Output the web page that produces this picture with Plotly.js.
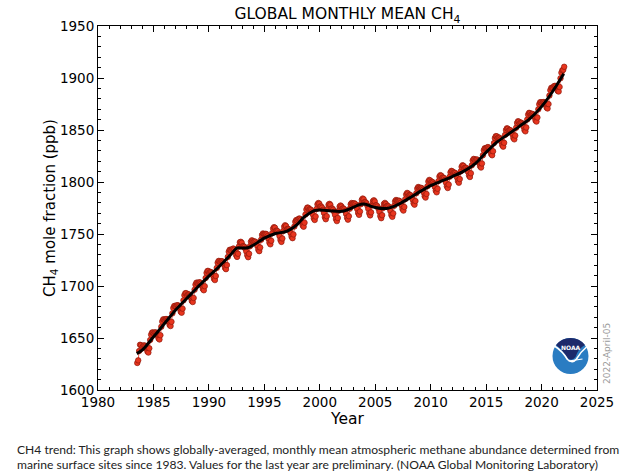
<!DOCTYPE html>
<html>
<head>
<meta charset="utf-8">
<script src="https://cdn.plot.ly/plotly-3.0.1.min.js"></script>
<style>html,body{margin:0;padding:0;background:#fff;}#chart{width:640px;height:473px;}</style>
</head>
<body>
<div id="chart"></div>
<script>
// Monthly global mean CH4 (ppb), starting July 1983
const startYear = 1983;
const startMonth = 7;
const ch4_1980s = [
  1626.0, 1628.5, 1637.5, 1643.5, 1643.0, 1640.0,
  1641.7, 1642.8, 1642.8, 1641.9, 1639.9, 1637.0, 1636.0, 1640.1, 1648.1, 1653.2, 1655.2, 1655.3,
  1654.3, 1655.3, 1655.4, 1654.4, 1652.5, 1649.6, 1648.6, 1652.7, 1660.8, 1665.8, 1667.9, 1667.9,
  1667.1, 1668.2, 1668.2, 1667.3, 1665.4, 1662.5, 1661.5, 1665.6, 1673.7, 1678.8, 1680.8, 1680.9,
  1680.5, 1681.5, 1681.4, 1680.4, 1678.4, 1675.3, 1674.3, 1678.2, 1686.2, 1691.2, 1693.1, 1693.1,
  1691.1, 1692.0, 1691.9, 1690.8, 1688.7, 1685.6, 1684.6, 1688.5, 1696.4, 1701.3, 1703.2, 1703.1,
  1702.6, 1703.5, 1703.4, 1702.3, 1700.2, 1697.1, 1695.9, 1699.8, 1707.7, 1712.6, 1714.5, 1714.4
];
const ch4_1990s = [
  1712.7, 1713.5, 1713.3, 1712.2, 1710.0, 1706.9, 1705.7, 1709.6, 1717.4, 1722.3, 1724.1, 1723.9,
  1722.9, 1723.8, 1723.7, 1722.6, 1720.5, 1717.4, 1716.2, 1720.1, 1728.0, 1732.9, 1734.8, 1734.7,
  1734.0, 1735.5, 1736.0, 1735.0, 1733.0, 1729.5, 1728.0, 1731.0, 1738.0, 1742.0, 1742.5, 1741.5,
  1738.1, 1738.3, 1737.6, 1735.9, 1733.2, 1729.5, 1727.7, 1731.0, 1738.3, 1742.6, 1743.9, 1743.1,
  1742.4, 1742.9, 1742.4, 1740.9, 1738.4, 1734.9, 1733.5, 1737.0, 1744.5, 1749.0, 1750.5, 1750.0,
  1749.8, 1750.2, 1749.6, 1748.0, 1745.3, 1741.7, 1740.1, 1743.5, 1750.8, 1755.2, 1756.6, 1756.0,
  1753.0, 1753.2, 1752.5, 1750.7, 1747.9, 1744.2, 1742.4, 1745.7, 1752.9, 1757.1, 1758.4, 1757.6,
  1754.4, 1755.0, 1754.6, 1753.2, 1750.8, 1747.4, 1746.0, 1749.6, 1757.2, 1761.8, 1763.4, 1763.0,
  1764.0, 1764.8, 1764.7, 1763.5, 1761.3, 1758.2, 1757.0, 1760.9, 1768.7, 1773.5, 1775.4, 1775.2,
  1773.5, 1773.8, 1773.1, 1771.5, 1768.8, 1765.1, 1763.5, 1766.8, 1774.1, 1778.5, 1779.8, 1779.1
];
const ch4_2000s = [
  1776.4, 1776.4, 1775.3, 1773.3, 1770.3, 1766.2, 1764.2, 1767.1, 1774.1, 1778.1, 1779.0, 1778.0,
  1774.4, 1774.4, 1773.4, 1771.4, 1768.4, 1764.4, 1762.4, 1765.4, 1772.4, 1776.4, 1777.4, 1776.4,
  1774.3, 1774.6, 1773.8, 1772.1, 1769.3, 1765.6, 1763.8, 1767.1, 1774.3, 1778.6, 1779.8, 1779.1,
  1779.3, 1779.5, 1778.7, 1776.9, 1774.0, 1770.2, 1768.4, 1771.6, 1778.7, 1782.9, 1784.1, 1783.3,
  1780.7, 1780.6, 1779.5, 1777.3, 1774.2, 1770.1, 1767.9, 1770.8, 1777.7, 1781.5, 1782.4, 1781.3,
  1777.6, 1777.5, 1776.4, 1774.4, 1771.3, 1767.2, 1765.2, 1768.1, 1775.0, 1779.0, 1779.9, 1778.8,
  1776.8, 1777.1, 1776.4, 1774.7, 1772.0, 1768.3, 1766.5, 1769.8, 1777.1, 1781.4, 1782.7, 1782.0,
  1781.7, 1782.1, 1781.6, 1780.1, 1777.6, 1774.1, 1772.5, 1776.0, 1783.5, 1788.0, 1789.5, 1788.9,
  1787.1, 1787.6, 1787.1, 1785.6, 1783.1, 1779.6, 1778.2, 1781.7, 1789.2, 1793.7, 1795.2, 1794.7,
  1794.0, 1794.4, 1793.9, 1792.5, 1789.9, 1786.4, 1785.0, 1788.5, 1795.9, 1800.5, 1802.0, 1801.4
];
const ch4_2010s = [
  1799.8, 1800.2, 1799.5, 1797.9, 1795.3, 1791.7, 1790.1, 1793.5, 1800.9, 1805.3, 1806.6, 1806.0,
  1803.9, 1804.3, 1803.7, 1802.0, 1799.4, 1795.8, 1794.2, 1797.6, 1805.0, 1809.3, 1810.7, 1810.1,
  1808.7, 1809.1, 1808.6, 1807.0, 1804.4, 1800.9, 1799.3, 1802.8, 1810.2, 1814.6, 1816.1, 1815.5,
  1813.2, 1813.8, 1813.4, 1812.0, 1809.6, 1806.2, 1804.8, 1808.4, 1816.0, 1820.6, 1822.2, 1821.8,
  1820.7, 1821.6, 1821.5, 1820.3, 1818.2, 1815.1, 1813.9, 1817.8, 1825.7, 1830.5, 1832.4, 1832.3,
  1832.7, 1833.5, 1833.4, 1832.2, 1830.0, 1826.9, 1825.7, 1829.6, 1837.4, 1842.2, 1844.1, 1843.9,
  1842.2, 1842.8, 1842.5, 1841.1, 1838.7, 1835.4, 1834.0, 1837.7, 1845.3, 1849.9, 1851.6, 1851.2,
  1849.4, 1850.0, 1849.6, 1848.2, 1845.8, 1842.4, 1841.0, 1844.6, 1852.2, 1856.8, 1858.4, 1858.0,
  1856.4, 1857.1, 1856.8, 1855.5, 1853.2, 1849.9, 1848.7, 1852.4, 1860.1, 1864.8, 1866.5, 1866.2,
  1864.6, 1865.5, 1865.4, 1864.3, 1862.2, 1859.1, 1858.1, 1862.0, 1869.9, 1874.8, 1876.7, 1876.6
];
const ch4_2020s = [
  1875.5, 1876.7, 1876.9, 1876.1, 1874.3, 1871.5, 1870.7, 1874.9, 1883.1, 1888.3, 1890.5, 1890.7,
  1890.7, 1892.1, 1892.5, 1891.9, 1890.2, 1887.6, 1887.0, 1891.4, 1899.7, 1905.1, 1907.5, 1907.9,
  1910.8
];

// Deseasonalized trend (ppb)
const trendYear = [1983.5, 1984, 1985, 1986, 1987, 1988, 1989, 1990, 1991, 1992, 1992.5, 1993, 1993.5, 1994, 1995, 1996, 1997, 1998, 1998.5, 1999, 1999.5, 2000, 2001, 2002, 2003, 2003.5, 2004, 2004.5, 2005, 2006, 2007, 2008, 2009, 2010, 2011, 2012, 2013, 2014, 2015, 2016, 2017, 2018, 2019, 2020, 2021, 2022];
const trendValue = [1635.0, 1638.5, 1651.0, 1664.0, 1677.0, 1688.0, 1699.0, 1709.5, 1719.5, 1730.5, 1736.5, 1736.5, 1736.8, 1739.2, 1746.0, 1750.5, 1752.5, 1759.5, 1765.5, 1769.5, 1772.5, 1773.0, 1772.2, 1771.8, 1775.5, 1778.0, 1778.8, 1777.2, 1775.5, 1774.5, 1778.0, 1784.0, 1790.5, 1796.5, 1801.0, 1805.5, 1810.5, 1817.5, 1828.5, 1838.5, 1846.0, 1853.5, 1861.5, 1872.5, 1887.0, 1904.0];

const xTicks = [1980, 1985, 1990, 1995, 2000, 2005, 2010, 2015, 2020, 2025];
const yTicks = [1600, 1650, 1700, 1750, 1800, 1850, 1900, 1950];

const ch4Monthly = [].concat(ch4_1980s, ch4_1990s, ch4_2000s, ch4_2010s, ch4_2020s);
const monthDates = ch4Monthly.map((v, i) => {
  const m = (startMonth - 1) + i;
  return startYear + Math.floor(m / 12) + ((m % 12) + 0.5) / 12;
});

const font = 'DejaVu Sans, sans-serif';
const data = [
  {
    x: monthDates, y: ch4Monthly, type: 'scatter', mode: 'lines+markers',
    line: {color: '#e0321e', width: 0.8},
    marker: {size: 5.5, color: '#e8351e', line: {color: '#8f180b', width: 0.7}},
    hoverinfo: 'x+y'
  },
  {
    x: trendYear, y: trendValue, type: 'scatter', mode: 'lines',
    line: {color: '#000', width: 3, shape: 'spline', smoothing: 0.8},
    hoverinfo: 'x+y'
  }
];

const L = 98, R = 597, T = 26, B = 390, W = 640, H = 473;
const px = (x) => (x - L) / (R - L);
const py = (y) => (B - y) / (B - T);

const axisCommon = {
  showline: true, linecolor: '#000', linewidth: 1, mirror: 'ticks',
  ticks: 'inside', ticklen: 6, tickwidth: 1, tickcolor: '#000',
  showgrid: false, zeroline: false,
  tickfont: {family: font, size: 13.5, color: '#000'},
  fixedrange: true
};

const cx = px(570.5), cy = py(356);
const layout = {
  width: W, height: H,
  margin: {l: L, r: W - R, t: T, b: H - B},
  paper_bgcolor: '#fff', plot_bgcolor: '#fff',
  showlegend: false,
  title: {
    text: 'GLOBAL MONTHLY MEAN CH<sub>4</sub>',
    font: {family: font, size: 15.5, color: '#000'},
    xref: 'paper', x: 0.5, xanchor: 'center',
    yref: 'container', y: 1 - 14 / H, yanchor: 'middle'
  },
  xaxis: Object.assign({}, axisCommon, {
    range: [1980, 2025], tickvals: xTicks, ticktext: xTicks.map(String),
    minor: {dtick: 1, tick0: 1980, ticks: 'inside', ticklen: 3, tickcolor: '#000', tickwidth: 1, showgrid: false},
    title: {text: 'Year', font: {family: font, size: 15.5, color: '#000'}, standoff: 0}
  }),
  yaxis: Object.assign({}, axisCommon, {
    range: [1600, 1950], tickvals: yTicks, ticktext: yTicks.map(String),
    minor: {dtick: 10, tick0: 1600, ticks: 'inside', ticklen: 3, tickcolor: '#000', tickwidth: 1, showgrid: false},
    title: {text: 'CH<sub>4</sub> mole fraction (ppb)', font: {family: font, size: 15, color: '#000'}, standoff: 0}
  }),
  annotations: [
    {
      text: 'CH4 trend: This graph shows globally-averaged, monthly mean atmospheric methane abundance determined from',
      xref: 'paper', yref: 'paper', x: px(15), y: py(449), xanchor: 'left', yanchor: 'middle',
      showarrow: false, font: {family: 'Lato, sans-serif', size: 12.1, color: '#222'}
    },
    {
      text: 'marine surface sites since 1983. Values for the last year are preliminary. (NOAA Global Monitoring Laboratory)',
      xref: 'paper', yref: 'paper', x: px(15), y: py(464), xanchor: 'left', yanchor: 'middle',
      showarrow: false, font: {family: 'Lato, sans-serif', size: 12.1, color: '#222'}
    },
    {
      text: '2022-April-05', textangle: -90,
      xref: 'paper', yref: 'paper', x: px(607), y: py(354), xanchor: 'center', yanchor: 'middle',
      showarrow: false, font: {family: font, size: 9, color: '#9a9a9a'}
    },
    {
      text: '<b>NOAA</b>',
      xref: 'paper', yref: 'paper', x: cx, y: py(347.5), xanchor: 'center', yanchor: 'middle',
      showarrow: false, font: {family: font, size: 6, color: '#fff'}
    }
  ],
  shapes: [
    {type: 'circle', xref: 'paper', yref: 'paper', xsizemode: 'pixel', ysizemode: 'pixel',
     xanchor: cx, yanchor: cy, x0: -18, x1: 18, y0: -18, y1: 18,
     fillcolor: '#2a7cc2', line: {width: 0}},
    {type: 'path', xref: 'paper', yref: 'paper', xsizemode: 'pixel', ysizemode: 'pixel',
     xanchor: cx, yanchor: cy,
     path: 'M -14.5 11 Q -9 18 0 18 Q 9 18 14.5 11 Q 8 8 5 -1 Q 1 -6 -3 -2 Q -8 6 -14.5 11 Z',
     fillcolor: '#1d2a6b', line: {width: 0}},
    {type: 'path', xref: 'paper', yref: 'paper', xsizemode: 'pixel', ysizemode: 'pixel',
     xanchor: cx, yanchor: cy,
     path: 'M -16 10 Q -8 5 -3 -3.5 Q 2 -8 6 -3 Q 10 4 16 9',
     line: {color: '#fff', width: 1.6}},
    {type: 'path', xref: 'paper', yref: 'paper', xsizemode: 'pixel', ysizemode: 'pixel',
     xanchor: cx, yanchor: cy,
     path: 'M -2 -5 Q 6 -4 12 -3',
     line: {color: '#fff', width: 1.2}}
  ]
};

Plotly.newPlot('chart', data, layout, {displayModeBar: false, staticPlot: true});
</script>
</body>
</html>
